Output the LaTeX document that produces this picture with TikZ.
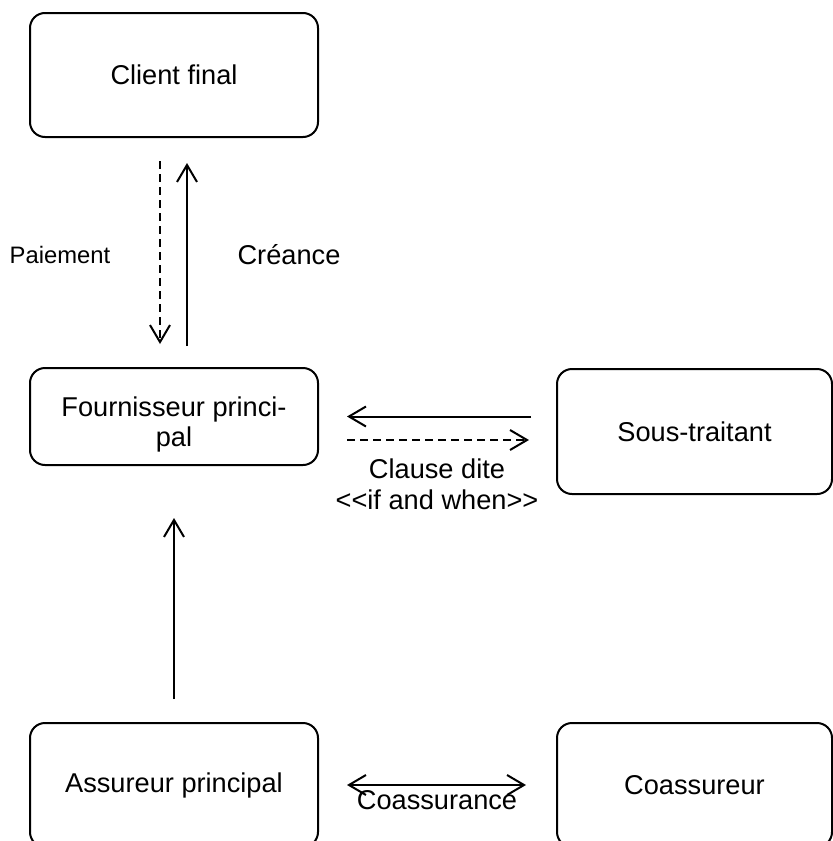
\documentclass[tikz,border=0pt]{standalone}
\usepackage{fontspec}
\setmainfont{Liberation Sans}
\usetikzlibrary{arrows.meta}

\begin{document}
\begin{tikzpicture}[x=.5pt, y=-.5pt,
       boite/.style={draw, line width=1pt, rounded corners=7.5pt, align=center,
         font=\fontsize{13.6}{15}\selectfont},
       fleche/.style={line width=1pt, -{Straight Barb[length=8.5pt, width=10pt]}},
       double/.style={line width=1pt,
         {Straight Barb[length=8.5pt, width=10pt]}-{Straight Barb[length=8.5pt, width=10pt]}},
       tirets/.style={dash pattern=on 4pt off 2.5pt},
       etiq/.style={align=center, font=\fontsize{13.6}{15.5}\selectfont}]
       \useasboundingbox (0,0) rectangle (833,841);

       \node[boite, minimum width=144pt, minimum height=62pt] (client) at (174,75) {Client final};
       \node[boite, minimum width=144pt, minimum height=48.5pt] (fourn) at (174,416.5)
       {\rule{0pt}{18pt}Fournisseur princi-\\pal};
       \node[boite, minimum width=137.5pt, minimum height=62.5pt] (sous) at (694.5,431.5) {Sous-traitant};
       \node[boite, minimum width=144pt, minimum height=62pt] (assur) at (174,785) {Assureur principal};
       \node[boite, minimum width=137.5pt, minimum height=62pt] (coass) at (694.5,785) {Coassureur};

       \draw[fleche, tirets, shorten <=11.5pt, shorten >=11.5pt]
       ([xshift=-7pt]client.south) -- ([xshift=-7pt]fourn.north);
       \draw[fleche, shorten <=10.5pt, shorten >=12.5pt]
       ([xshift=6.5pt]fourn.north) -- ([xshift=6.5pt]client.south);
       \node[etiq, font=\fontsize{11.9}{14}\selectfont] (paiement) at (60,255) {Paiement};
       \node[etiq] (creance) at (289,255) {Créance};

       \draw[fleche, shorten <=12.5pt, shorten >=14pt] (fourn.east -| sous.west) -- (fourn.east);
       \draw[fleche, tirets, shorten <=14pt, shorten >=13.5pt]
       ([yshift=-11.75pt]fourn.east) -- ([yshift=-11.75pt]fourn.east -| sous.west);
       \node[etiq] (clause) at (437,484) {Clause dite\\<{}<if and when>{}>};

       \draw[fleche, shorten <=11.5pt, shorten >=26pt] (assur.north) -- (fourn.south);

       \draw[double, shorten <=14pt, shorten >=15pt] (assur.east) -- (coass.west);
       \node[etiq] (coassurance) at (437,800) {Coassurance};
\end{tikzpicture}
\end{document}
